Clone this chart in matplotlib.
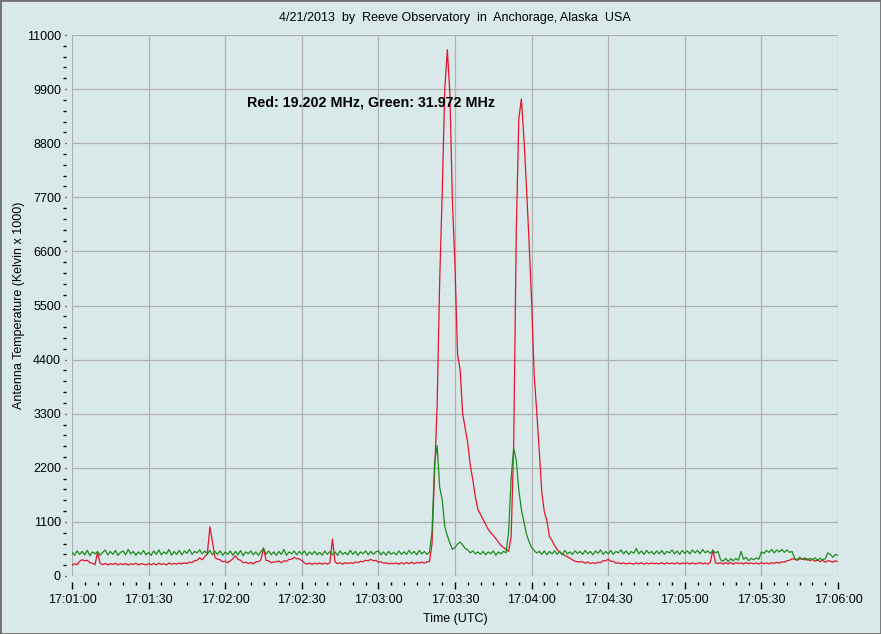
import numpy as np
import matplotlib.pyplot as plt
from matplotlib.patches import Rectangle

plt.rcParams['font.family'] = ['Liberation Sans', 'DejaVu Sans']

# ------ DATA (one value per second from 17:01:00) ------
red = [
    220, 250, 230, 300, 330, 310, 320, 270, 260, 230,
    480, 260, 230, 255, 225, 250, 235, 260, 225, 250,
    230, 255, 220, 250, 235, 260, 225, 250, 240, 225,
    250, 230, 255, 225, 260, 235, 250, 225, 265, 240,
    255, 240, 265, 245, 270, 250, 285, 270, 310, 320,
    370, 330, 390, 450, 1000, 700, 380, 340, 330, 290,
    300, 270, 310, 350, 410, 340, 320, 270, 280, 255,
    275, 245, 290, 290, 330, 570, 320, 310, 270, 285,
    290, 305, 270, 310, 300, 340, 340, 380, 350, 350,
    310, 270, 240, 265, 235, 260, 245, 265, 240, 265,
    240, 270, 750, 290, 250, 270, 240, 270, 255, 270,
    255, 285, 270, 300, 290, 320, 310, 340, 310, 320,
    280, 290, 260, 270, 245, 260, 250, 265, 240, 270,
    245, 275, 250, 280, 250, 275, 260, 285, 260, 290,
    290, 650, 2100, 3450, 6000, 7800, 9900, 10700, 9800, 7600,
    6300, 4500, 4200, 3300, 3000, 2700, 2250, 1950, 1600, 1350,
    1250, 1150, 1050, 950, 880, 820, 760, 690, 620, 580,
    540, 500, 800, 2700, 7000, 9300, 9700, 8900, 7900, 6800,
    5600, 4100, 3350, 2550, 1700, 1300, 1120, 800, 720, 620,
    540, 490, 450, 420, 390, 360, 330, 300, 290, 285,
    290, 260, 285, 255, 270, 255, 280, 270, 310, 310,
    340, 300, 300, 260, 270, 250, 265, 245, 260, 255,
    240, 270, 245, 270, 240, 265, 245, 265, 250, 260,
    245, 270, 240, 270, 250, 260, 245, 275, 240, 265,
    250, 270, 240, 270, 245, 260, 270, 245, 265, 240,
    280, 530, 270, 250, 275, 240, 270, 245, 275, 240,
    270, 255, 265, 245, 275, 250, 265, 245, 270, 240,
    275, 250, 265, 245, 275, 255, 280, 260, 290, 280,
    310, 320, 350, 340, 320, 350, 340, 330, 350, 310,
    340, 300, 330, 290, 320, 280, 310, 300, 280, 310,
    290,
]

green = [
    480, 420, 510, 440, 500, 430, 520, 410, 490, 450,
    500, 420, 480, 530, 430, 500, 440, 520, 420, 480,
    510, 430, 540, 450, 500, 420, 490, 440, 520, 430,
    480, 420, 510, 440, 530, 430, 490, 450, 540, 420,
    500, 440, 520, 430, 510, 460, 540, 440, 500, 470,
    530, 450, 510, 440, 520, 430, 500, 440, 510, 420,
    490, 440, 510, 420, 500, 430, 520, 410, 490, 450,
    510, 430, 490, 420, 500, 560, 440, 510, 430, 490,
    420, 500, 440, 540, 420, 490, 450, 510, 430, 500,
    440, 510, 420, 490, 440, 500, 430, 480, 420, 510,
    440, 500, 430, 490, 420, 510, 440, 480, 430, 520,
    440, 500, 420, 490, 450, 510, 430, 500, 440, 490,
    510, 430, 490, 420, 500, 440, 480, 430, 510, 440,
    490, 440, 520, 450, 500, 430, 520, 450, 500, 440,
    480, 900, 2300, 2650, 1800, 1550, 1000, 820, 670, 540,
    580, 650, 690, 630, 560, 530, 470, 510, 450, 490,
    440, 500, 430, 490, 450, 510, 420, 490, 450, 500,
    470, 900, 2000, 2600, 2350, 1750, 1350, 1100, 850, 700,
    580, 520, 470, 500, 440, 510, 430, 500, 450, 510,
    440, 500, 430, 520, 450, 490, 440, 510, 460, 500,
    440, 520, 450, 500, 430, 510, 460, 530, 440, 500,
    450, 520, 440, 500, 470, 530, 450, 510, 440, 500,
    460, 560, 450, 510, 440, 520, 460, 500, 440, 510,
    450, 520, 440, 500, 470, 530, 450, 510, 440, 520,
    460, 510, 450, 530, 470, 520, 450, 540, 470, 510,
    460, 520, 470, 500, 330, 300, 360, 290, 350, 310,
    360, 320, 500, 340, 380, 310, 360, 330, 370, 340,
    490, 460, 520, 480, 540, 470, 530, 490, 540, 480,
    530, 480, 500, 360, 330, 380, 340, 370, 320, 360,
    330, 370, 320, 360, 330, 350, 470, 440, 380, 440,
    420,
]

tick_labels = ['17:01:00', '17:01:30', '17:02:00', '17:02:30', '17:03:00', '17:03:30',
               '17:04:00', '17:04:30', '17:05:00', '17:05:30', '17:06:00']

t = np.arange(len(red))
bg = '#d9e9e9'

fig = plt.figure(figsize=(8.81, 6.34), dpi=100, facecolor=bg)
ax = fig.add_axes([72/881, 1 - 576/634, (838 - 72)/881, (576 - 35)/634])
ax.set_facecolor(bg)

ax.plot(t, red, color='#e3142c', lw=0.9)
ax.plot(t, green, color='#1f8a1f', lw=0.9)

ax.set_xlim(0, 300)
ax.set_ylim(0, 11000)
ax.set_xticks(np.arange(0, 301, 30), tick_labels)
ax.set_xticks(np.arange(0, 301, 5), minor=True)
ax.set_yticks(np.arange(0, 11001, 1100))
ax.set_yticks(np.arange(0, 11001, 220), minor=True)
ax.grid(True, which='major', color='#b0b0b0', lw=0.9)

for s in ['top', 'right']:
    ax.spines[s].set_visible(False)
for s in ['left', 'bottom']:
    ax.spines[s].set_color('none')
    ax.spines[s].set_position(('outward', 4))

ax.tick_params(axis='x', which='major', length=5, width=1, pad=4, labelsize=9)
ax.tick_params(axis='x', which='minor', length=2.5, width=1)
ax.tick_params(axis='y', which='major', length=1, width=1, pad=3, labelsize=9)
ax.tick_params(axis='y', which='minor', length=2.5, width=1)

ax.set_xlabel('Time (UTC)', fontsize=9, labelpad=5)
ax.set_ylabel('Antenna Temperature (Kelvin x 1000)', fontsize=9, labelpad=1)
fig.text(455/881, 1 - 18/634, '4/21/2013  by  Reeve Observatory  in  Anchorage, Alaska  USA',
         ha='center', va='center', fontsize=9)
ax.text(68.5, 9620, 'Red: 19.202 MHz, Green: 31.972 MHz', fontsize=10.3, fontweight='bold',
        ha='left', va='center')

fig.add_artist(Rectangle((0, 0), 1, 1, transform=fig.transFigure, fill=False,
                         edgecolor='#707070', lw=2))

fig.savefig('out.png', dpi=100, facecolor=bg)
